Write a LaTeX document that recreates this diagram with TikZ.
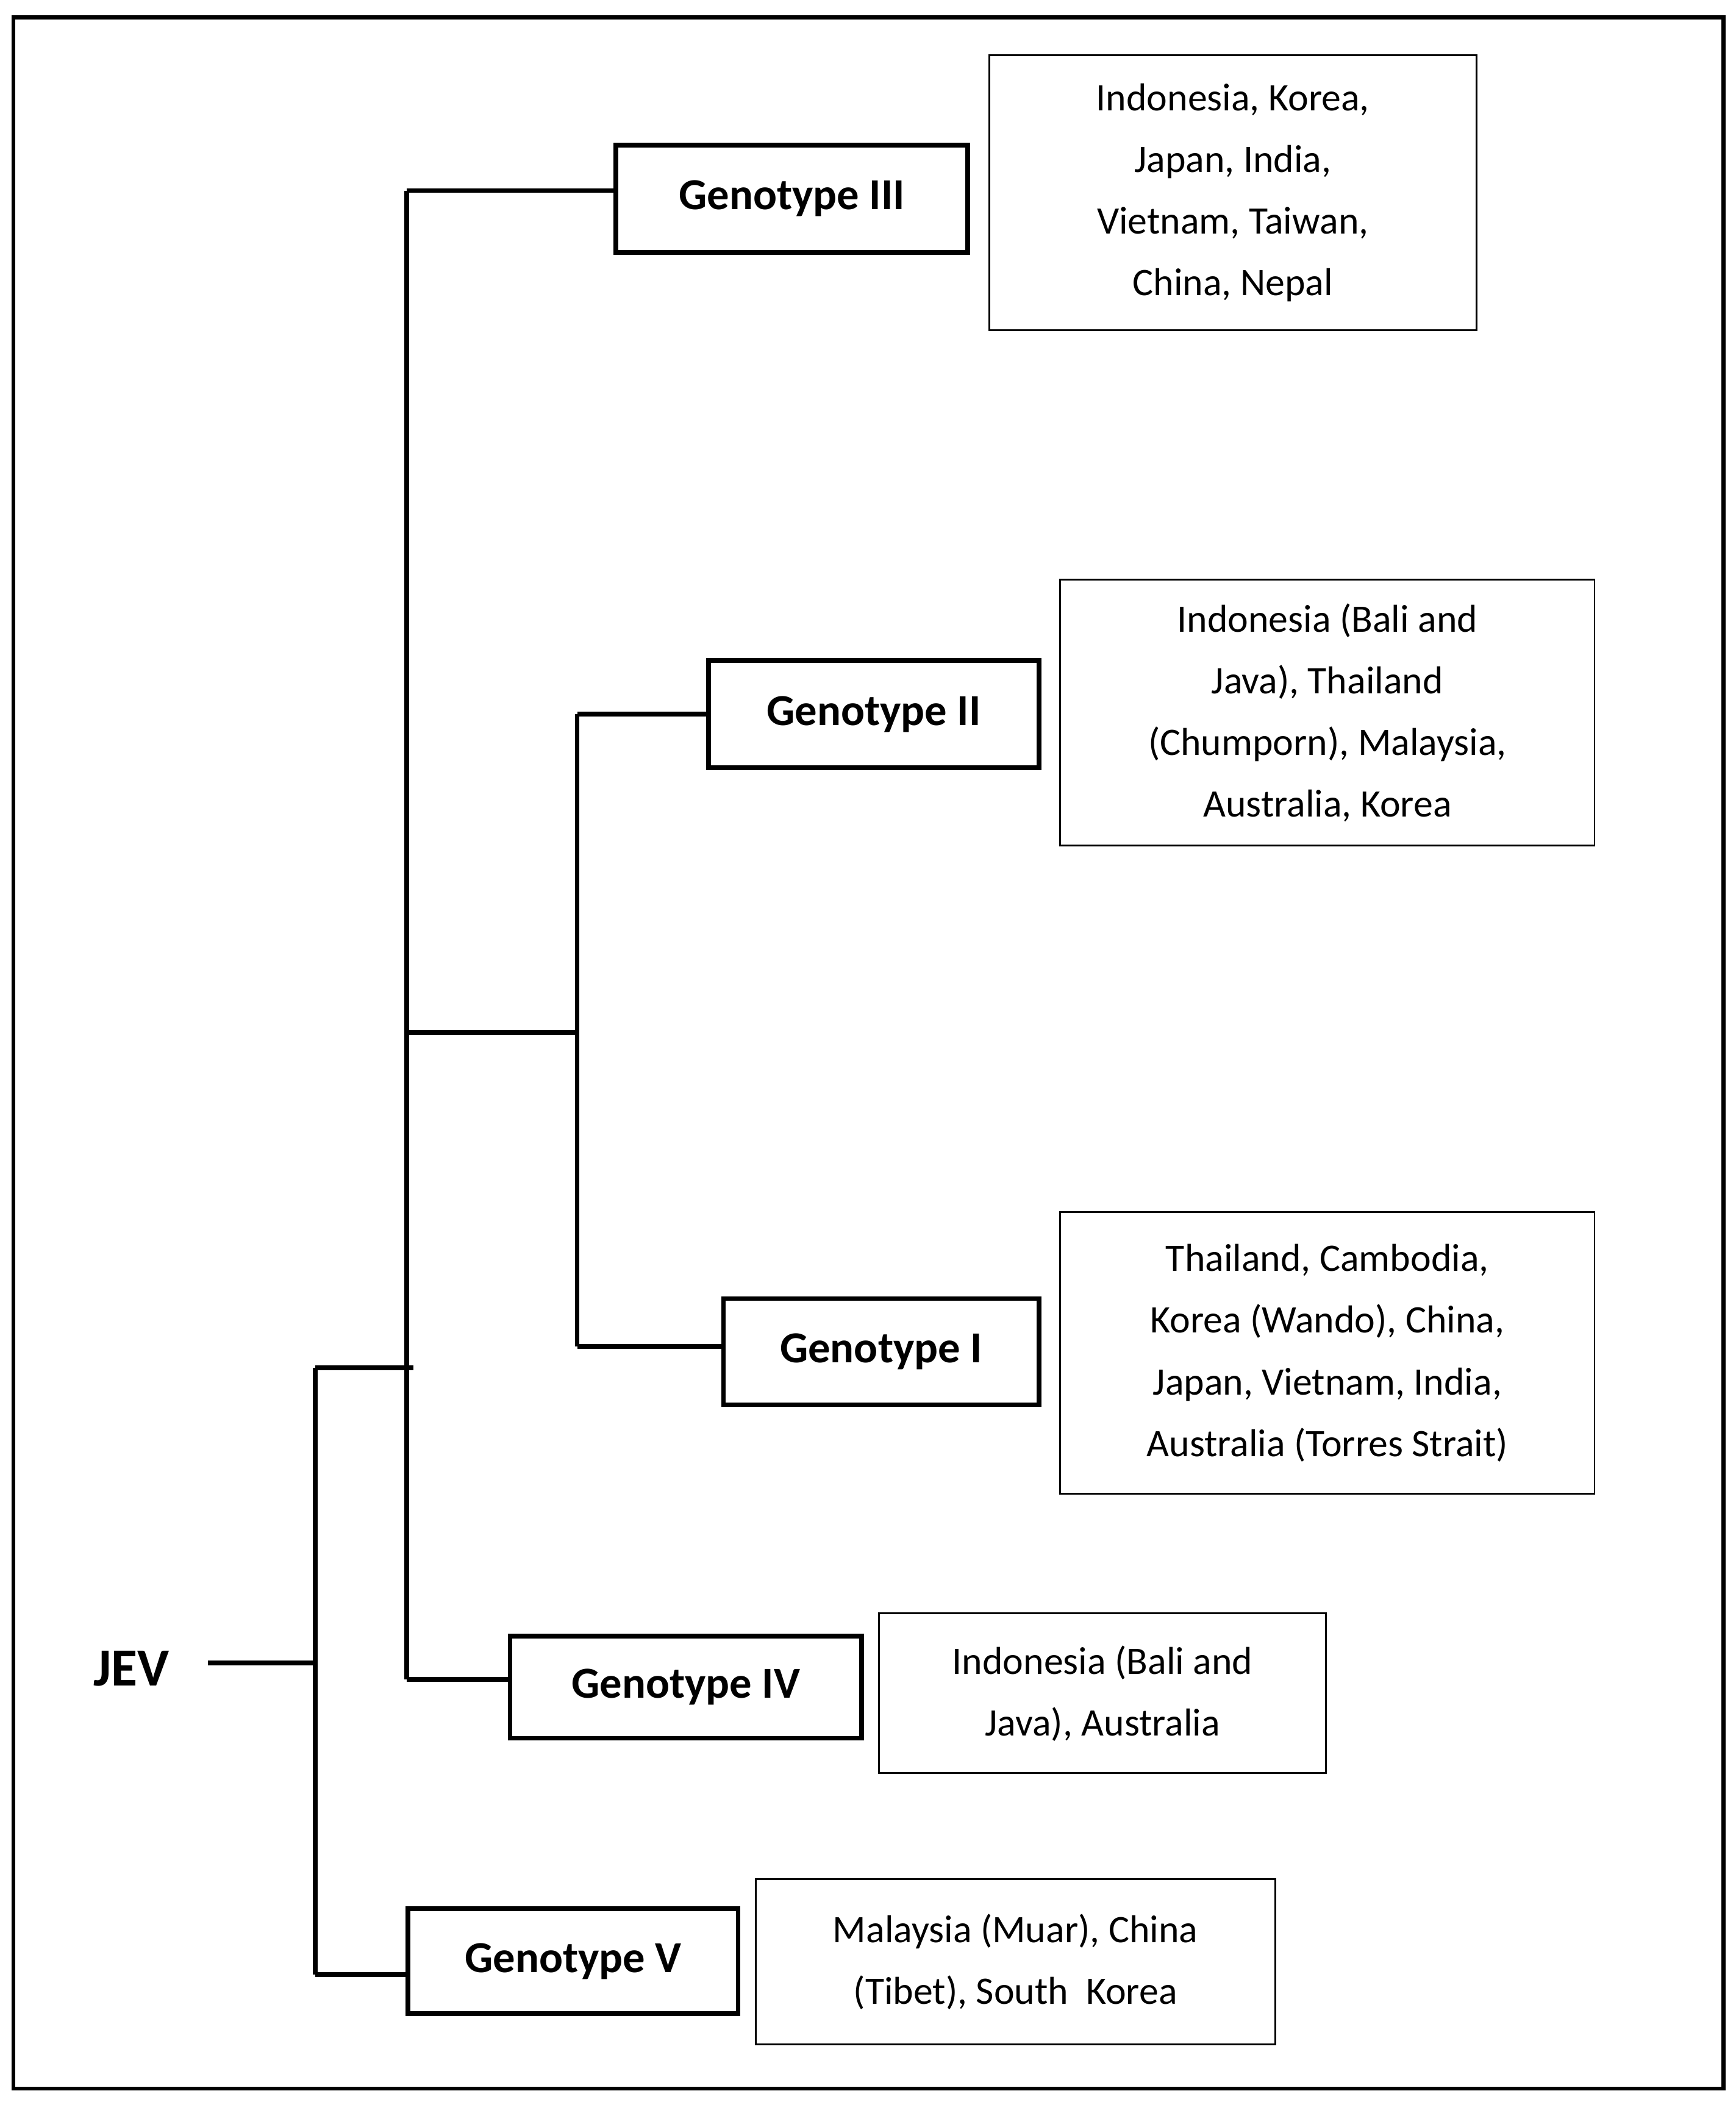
\documentclass[tikz,border=0pt]{standalone}
\usepackage{fontspec}
\setmainfont{Carlito}
\begin{document}
\begin{tikzpicture}[x=1pt,y=-1pt,
  gbox/.style={draw,line width=3.5pt,minimum height=80pt,font=\fontsize{33}{40}\selectfont\bfseries,inner sep=0pt},
  ibox/.style={draw,line width=1.3pt,align=center,font=\fontsize{29}{46}\selectfont,inner sep=0pt},
  br/.style={line width=3.5pt}]
\useasboundingbox (0,0) rectangle (1293,1566);
\draw[line width=3pt] (10,13) rectangle (1284,1556);
\node[gbox,minimum width=262pt] (g3) at (590,148) {Genotype III};
\node[gbox,minimum width=246pt] (g2) at (651,532) {Genotype II};
\node[gbox,minimum width=235pt,minimum height=79pt] (g1) at (656.5,1007) {Genotype I};
\node[gbox,minimum width=262pt,minimum height=76pt] (g4) at (511,1257) {Genotype IV};
\node[gbox,minimum width=246pt,minimum height=78pt] (g5) at (427,1461) {Genotype V};
\node[ibox,minimum width=363pt,minimum height=205pt] (i3) at (918.5,143.5) {Indonesia, Korea,\\Japan, India,\\Vietnam, Taiwan,\\China, Nepal};
\node[ibox,minimum width=398pt,minimum height=198pt] (i2) at (989,531) {Indonesia (Bali and\\Java), Thailand\\(Chumporn), Malaysia,\\Australia, Korea};
\node[ibox,minimum width=398pt,minimum height=210pt] (i1) at (989,1008) {Thailand, Cambodia,\\Korea (Wando), China,\\Japan, Vietnam, India,\\Australia (Torres Strait)};
\node[ibox,minimum width=333pt,minimum height=119pt] (i4) at (821.5,1261.5) {Indonesia (Bali and\\Java), Australia};
\node[ibox,minimum width=387pt,minimum height=123pt] (i5) at (756.5,1461.5) {Malaysia (Muar), China\\(Tibet), South\ \ Korea};
\node[font=\fontsize{40}{48}\selectfont\bfseries] (jev) at (98,1243) {JEV};
\coordinate (a0) at (155,1239);
\coordinate (a1) at (235,1239);
\coordinate (a2) at (235,1019);
\coordinate (a3) at (235,1471);
\coordinate (b1) at (303,142);
\coordinate (b2) at (303,1251);
\coordinate (b3) at (303,769);
\coordinate (c1) at (430,532);
\coordinate (c2) at (430,1003);
\draw[br] (a0) -- (a1);
\draw[br] (a2) -- (a3);
\draw[br] (a2) -- (308,1019);
\draw[br] (a3) -- (g5.west |- a3);
\draw[br] (b1) -- (b2);
\draw[br] (b1) -- (g3.west |- b1);
\draw[br] (b2) -- (g4.west |- b2);
\draw[br] (b3) -- (c1 |- b3);
\draw[br] (c1) -- (c2);
\draw[br] (c1) -- (g2.west |- c1);
\draw[br] (c2) -- (g1.west |- c2);
\end{tikzpicture}
\end{document}
